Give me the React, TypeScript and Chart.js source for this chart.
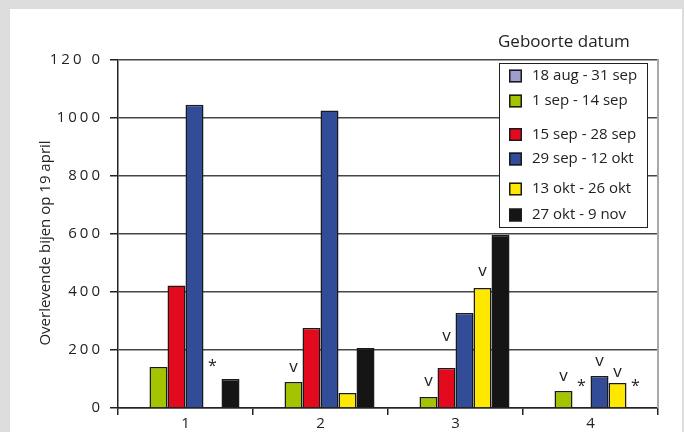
import React, { useEffect, useRef } from "react";
import { Chart, registerables } from "chart.js";

Chart.register(...registerables);

const categories = ["1", "2", "3", "4"];
const seriesLabels = [
  "18 aug - 31 sep",
  "1 sep - 14 sep",
  "15 sep - 28 sep",
  "29 sep - 12 okt",
  "13 okt - 26 okt",
  "27 okt - 9 nov",
];
const aug18 = [null, null, null, null];
const sep1 = [141, 90, 38, 59];
const sep15 = [422, 276, 138, null];
const sep29 = [1046, 1026, 328, 110];
const okt13 = [null, 52, 414, 86];
const okt27 = [100, 207, 597, null];
const yTickLabels: Record<number, string> = {
  0: "0",
  200: "200",
  400: "400",
  600: "600",
  800: "800",
  1000: "1000",
  1200: "120 0",
};
const yTitle = "Overlevende bijen op 19 april";
const legendTitle = "Geboorte datum";

// markers: symbol, dataset index, category index, level (y value of glyph centre), x shift
const markers: [string, number, number, number, number][] = [
  ["*", 4, 0, 138, 0],
  ["v", 1, 1, 138, 0],
  ["v", 1, 2, 90, 0],
  ["v", 3, 2, 248, -18],
  ["v", 4, 2, 469, 0],
  ["v", 1, 3, 107, 0],
  ["*", 2, 3, 86, 0],
  ["v", 3, 3, 159, 0],
  ["v", 4, 3, 121, 0],
  ["*", 5, 3, 86, 0],
];

const colors = ["#9f9dcf", "#a5c400", "#e30a1e", "#334c97", "#ffe800", "#151515"];
const FONT = "'Open Sans', sans-serif";
const TEXT = "#222222";

const decorPlugin = {
  id: "decor",
  beforeDraw(chart: any) {
    const s = chart.scales.y;
    if (s && !s._lsPatched) {
      const orig = s.drawLabels;
      s.drawLabels = function (area: any) {
        const c = this.ctx;
        c.save();
        (c as any).letterSpacing = "3px";
        orig.call(this, area);
        c.restore();
      };
      s._lsPatched = true;
    }
  },
  afterDraw(chart: any) {
    const ctx = chart.ctx as CanvasRenderingContext2D;
    const area = chart.chartArea;
    const y = chart.scales.y;
    ctx.save();
    // right border of plot
    ctx.strokeStyle = "#a8a8a8";
    ctx.lineWidth = 2;
    ctx.beginPath();
    ctx.moveTo(area.right, area.top - 1);
    ctx.lineTo(area.right, area.bottom);
    ctx.stroke();

    // y title
    ctx.fillStyle = TEXT;
    ctx.font = `15px ${FONT}`;
    ctx.textAlign = "center";
    ctx.textBaseline = "middle";
    ctx.save();
    ctx.translate(46, 243);
    ctx.rotate(-Math.PI / 2);
    ctx.fillText(yTitle, 0, 0);
    ctx.restore();

    // markers
    markers.forEach(([sym, ds, idx, level, dx]) => {
      const el = chart.getDatasetMeta(ds).data[idx];
      if (!el) return;
      ctx.font = sym === "v" ? `17px ${FONT}` : `16px ${FONT}`;
      const m = ctx.measureText(sym);
      const cy = y.getPixelForValue(level);
      ctx.textAlign = "center";
      ctx.textBaseline = "alphabetic";
      ctx.fillText(sym, el.x + dx, cy + (m.actualBoundingBoxAscent - m.actualBoundingBoxDescent) / 2);
    });

    // legend
    ctx.font = `17px ${FONT}`;
    ctx.textAlign = "left";
    ctx.textBaseline = "alphabetic";
    ctx.fillText(legendTitle, 498, 47);

    const bx = 499, by = 63, bw = 148, bh = 164;
    ctx.fillStyle = "#ffffff";
    ctx.fillRect(bx, by, bw, bh);
    ctx.strokeStyle = "#222222";
    ctx.lineWidth = 1;
    ctx.strokeRect(bx + 0.5, by + 0.5, bw, bh);

    const rows = [76, 101, 134.5, 159, 189, 215];
    chart.data.datasets.forEach((d: any, i: number) => {
      const ry = rows[i];
      ctx.fillStyle = d.backgroundColor;
      ctx.fillRect(509, ry - 6.5, 13, 13);
      ctx.strokeStyle = "#1a1a1a";
      ctx.lineWidth = 1.5;
      ctx.strokeRect(509.75, ry - 5.75, 11.5, 11.5);
      ctx.fillStyle = TEXT;
      ctx.font = `15px ${FONT}`;
      ctx.textBaseline = "middle";
      ctx.fillText(d.label, 532, ry);
    });
    ctx.restore();
  },
};

export default function App() {
  const ref = useRef<HTMLCanvasElement>(null);
  useEffect(() => {
    if (!ref.current) return;
    const series = [aug18, sep1, sep15, sep29, okt13, okt27];
    const chart = new Chart(ref.current, {
      type: "bar",
      data: {
        labels: categories,
        datasets: series.map((vals, i) => ({
          label: seriesLabels[i],
          data: vals,
          backgroundColor: colors[i],
          borderColor: "#1a1a1a",
          borderWidth: 1.5,
          barPercentage: 1,
          categoryPercentage: 0.8,
        })),
      },
      options: {
        responsive: false,
        animation: false,
        devicePixelRatio: 1,
        layout: { padding: { left: 34, top: 60, right: 26, bottom: 0 } },
        plugins: {
          legend: { display: false },
          tooltip: { enabled: false },
        },
        scales: {
          x: {
            grid: {
              drawOnChartArea: false,
              drawTicks: true,
              tickLength: 7,
              tickColor: "#222222",
              lineWidth: 1.5,
            },
            border: { color: "#222222", width: 1.5 },
            ticks: {
              color: TEXT,
              font: { family: FONT, size: 15 },
              padding: 0,
            },
            afterFit(scale: any) {
              scale.height = 24;
            },
          },
          y: {
            min: 0,
            max: 1200,
            grid: {
              color: "#464646",
              lineWidth: 1.5,
              tickLength: 8,
              tickColor: "#222222",
            },
            border: { color: "#222222", width: 1.5 },
            ticks: {
              stepSize: 200,
              color: TEXT,
              font: { family: FONT, size: 15 },
              padding: 7,
              callback: (v: any) => yTickLabels[v as number] ?? String(v),
            },
            afterFit(scale: any) {
              scale.width = 84;
            },
          },
        },
      },
      plugins: [decorPlugin],
    });
    return () => chart.destroy();
  }, []);

  return (
    <div style={{ position: "fixed", left: 0, top: 0, width: 684, height: 432, background: "#dddddd", overflow: "hidden" }}>
      <div style={{ position: "absolute", left: 10, top: 9, width: 672, height: 423, background: "#ffffff" }} />
      <canvas ref={ref} width={684} height={432} style={{ position: "absolute", left: 0, top: 0, width: 684, height: 432 }} />
    </div>
  );
}
